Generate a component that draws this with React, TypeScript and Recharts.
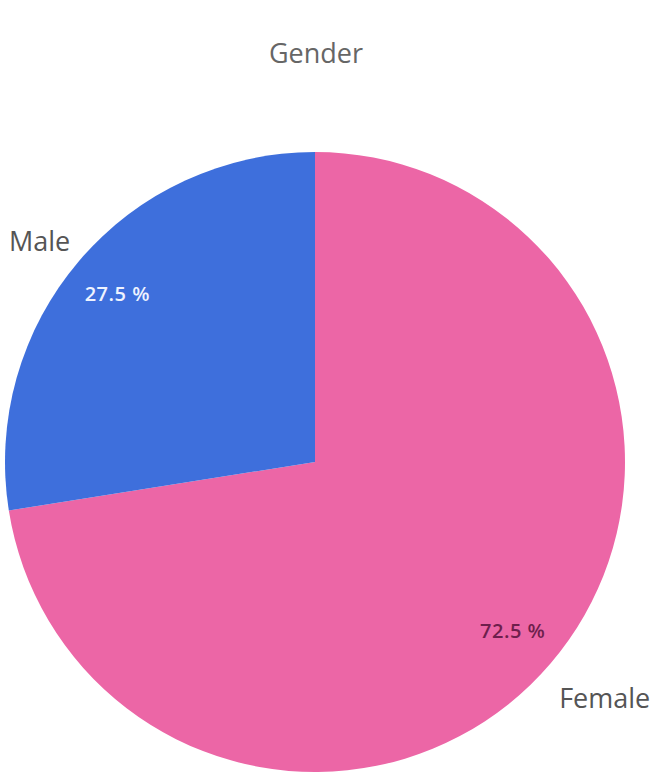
import { PieChart, Pie, Cell } from 'recharts';

// =============================================================================
// Data
// =============================================================================

const GENDERS = ['Female', 'Male'];
const SHARES = [72.5, 27.5];
const COLORS = ['#ec66a6', '#3e6fdc'];
const PCT_COLORS = ['#6e1f4c', '#eef3ff'];

const data = GENDERS.map((name, i) => ({ name, value: SHARES[i] }));

const RADIAN = Math.PI / 180;
const FONT = '"Open Sans", "Noto Sans", sans-serif';

// =============================================================================
// Labels
// =============================================================================

interface LabelProps {
  cx: number;
  cy: number;
  midAngle: number;
  index: number;
  value: number;
  name: string;
}

function renderLabel({ cx, cy, midAngle, index, value, name }: LabelProps) {
  const cos = Math.cos(-midAngle * RADIAN);
  const sin = Math.sin(-midAngle * RADIAN);

  // percentage inside the slice
  const ri = 260;
  const ix = cx + ri * cos;
  const iy = cy + ri * sin;

  // category name outside the slice
  const right = cos >= 0;
  const ro = right ? 381 : 322;
  const ox = cx + ro * cos;
  const oy = cy + ro * sin - 12;

  return (
    <g>
      <text
        x={ix}
        y={iy}
        textAnchor="middle"
        dominantBaseline="central"
        fill={PCT_COLORS[index]}
        fontSize={20}
        fontWeight={600}
        letterSpacing={0.5}
        fontFamily={FONT}
      >
        {`${value.toFixed(1)} %`}
      </text>
      <text
        x={ox}
        y={oy}
        textAnchor={right ? 'middle' : 'end'}
        dominantBaseline="central"
        fill="#555"
        fontSize={27}
        fontFamily={FONT}
      >
        {name}
      </text>
    </g>
  );
}

// =============================================================================
// App
// =============================================================================

export default function App() {
  return (
    <div style={{ position: 'absolute', left: 0, top: 0, width: 661, height: 782, background: '#fff' }}>
      <div
        style={{
          position: 'absolute',
          top: 34,
          width: 632,
          textAlign: 'center',
          fontFamily: FONT,
          fontSize: 27,
          color: '#666',
        }}
      >
        Gender
      </div>
      <PieChart width={661} height={782} margin={{ top: 0, right: 0, bottom: 0, left: 0 }}>
        <Pie
          data={data}
          dataKey="value"
          nameKey="name"
          cx={315}
          cy={462}
          outerRadius={310}
          startAngle={90}
          endAngle={-270}
          stroke="none"
          label={renderLabel}
          labelLine={false}
          isAnimationActive={false}
        >
          {data.map((entry, index) => (
            <Cell key={`cell-${entry.name}`} fill={COLORS[index]} />
          ))}
        </Pie>
      </PieChart>
    </div>
  );
}
